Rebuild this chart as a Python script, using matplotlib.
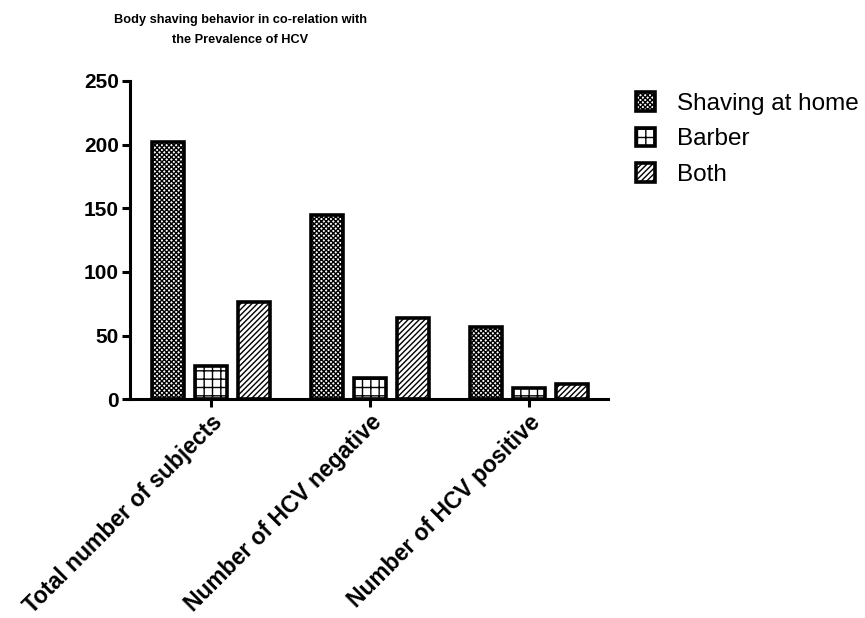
import numpy as np
import matplotlib
matplotlib.use("Agg")
import matplotlib.pyplot as plt

plt.rcParams['font.family'] = ['Liberation Sans', 'DejaVu Sans']
plt.rcParams['hatch.linewidth'] = 1.0

categories = ['Total number of subjects', 'Number of HCV negative', 'Number of HCV positive']
series_names = ['Shaving at home', 'Barber', 'Both']
shaving_home = [202, 145, 57]
barber = [26, 17, 9]
both = [76, 64, 12]
hatches = ['xxxxxxx', '++', '//////']

fig = plt.figure(figsize=(8.65, 6.18), dpi=100)
ax = fig.add_axes([0.1503, 0.354, 0.5526, 0.515])

x = np.arange(len(categories))
width = 0.2
step = 0.27
for i, (vals, name, h) in enumerate(zip([shaving_home, barber, both], series_names, hatches)):
    ax.bar(x + (i - 1) * step, vals, width, color='white', edgecolor='black',
           linewidth=2.6, hatch=h, label=name)

ax.set_xlim(-0.509, 2.497)
ax.set_ylim(0, 250)
ax.set_yticks([0, 50, 100, 150, 200, 250])
ax.set_xticks(x)
ax.set_xticklabels(categories, rotation=45, ha='right', rotation_mode='anchor',
                   fontsize=16.5, fontweight='bold')
for lbl in ax.get_yticklabels():
    lbl.set_fontsize(15)
    lbl.set_fontweight('bold')

for s in ['top', 'right']:
    ax.spines[s].set_visible(False)
for s in ['left', 'bottom']:
    ax.spines[s].set_linewidth(2.2)
ax.tick_params(width=2.2, length=6, pad=2)

fig.text(0.2775, 0.951, 'Body shaving behavior in co-relation with\nthe Prevalence of HCV',
         ha='center', va='center', fontsize=9.2, fontweight='bold', linespacing=1.9)

leg = ax.legend(loc='upper left', bbox_to_anchor=(0.735, 0.851), bbox_transform=fig.transFigure,
                frameon=False, fontsize=17.5, handlelength=0.8, handleheight=0.8,
                handletextpad=0.9, labelspacing=0.53, borderpad=0, borderaxespad=0)

fig.savefig('out.png', dpi=100)
